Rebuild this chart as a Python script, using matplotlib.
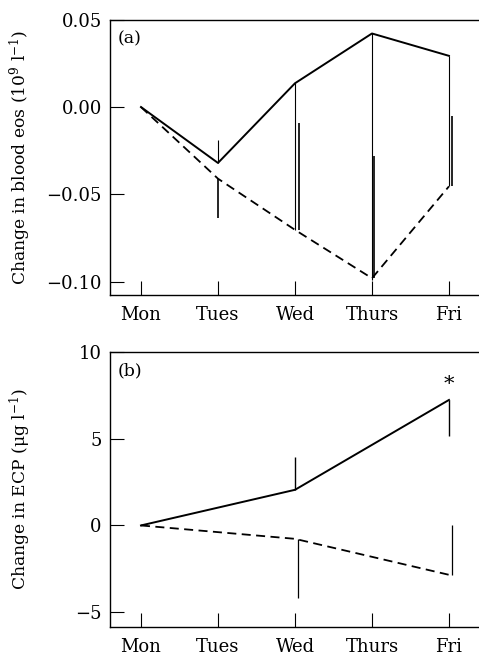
import matplotlib.pyplot as plt
import numpy as np

plt.rcParams['font.family'] = ['DejaVu Serif']
plt.rcParams['mathtext.fontset'] = 'dejavuserif'

days = ['Mon', 'Tues', 'Wed', 'Thurs', 'Fri']
x = np.arange(len(days))

# (a) blood eosinophils
eos_solid = [0.0, -0.032, 0.0136, 0.0421, 0.0293]
eos_dash = [0.0, -0.041, -0.0703, -0.098, -0.0454]
eos_solid_up = [0, 0.0134, 0, 0, 0]
eos_solid_lo = [0, 0, 0.0839, 0.141, 0.0747]
eos_dash_up = [0, 0, 0.061, 0.070, 0.040]
eos_dash_lo = [0, 0.0226, 0, 0, 0]

# (b) ECP, measured Mon/Wed/Fri
ecp_days = [0, 2, 4]
ecp_solid = [0.0, 2.05, 7.22]
ecp_dash = [0.0, -0.77, -2.84]
ecp_solid_up = [0, 1.88, 0]
ecp_solid_lo = [0, 0, 2.1]
ecp_dash_up = [0, 0, 2.84]
ecp_dash_lo = [0, 3.41, 0]

fig = plt.figure(figsize=(4.79, 6.56), dpi=100)
ax1 = fig.add_axes([0.23, 0.55, 0.77, 0.42])
ax2 = fig.add_axes([0.23, 0.044, 0.77, 0.42])

# panel a
off_a = np.array([0, 0, 0.05, 0.03, 0.04])
ax1.plot(x, eos_solid, color='black', lw=1.4)
ax1.plot(x, eos_dash, color='black', lw=1.3, ls=(0, (5, 3)))
ax1.errorbar(x, eos_solid, yerr=[eos_solid_lo, eos_solid_up], fmt='none',
             ecolor='black', elinewidth=0.8, capsize=0)
ax1.errorbar(x + off_a, eos_dash, yerr=[eos_dash_lo, eos_dash_up], fmt='none',
             ecolor='black', elinewidth=1.2, capsize=0)
ax1.set_xlim(-0.4, 4.39)
ax1.set_ylim(-0.1077, 0.05)
ax1.set_yticks([-0.10, -0.05, 0.0, 0.05])
ax1.set_yticklabels(['\u22120.10', '\u22120.05', '0.00', '0.05'])
ax1.set_ylabel('Change in blood eos (10$^9$ l$^{-1}$)', fontsize=12.3)
ax1.text(0.02, 0.96, '(a)', transform=ax1.transAxes, fontsize=12.5, va='top', ha='left')

# panel b
ax2.plot(ecp_days, ecp_solid, color='black', lw=1.4)
ax2.plot(ecp_days, ecp_dash, color='black', lw=1.3, ls=(0, (5, 3)))
ax2.errorbar(ecp_days, ecp_solid, yerr=[ecp_solid_lo, ecp_solid_up], fmt='none',
             ecolor='black', elinewidth=1.0, capsize=0)
ax2.errorbar(np.array(ecp_days) + 0.04, ecp_dash, yerr=[ecp_dash_lo, ecp_dash_up],
             fmt='none', ecolor='black', elinewidth=0.9, capsize=0)
ax2.text(4, 8.1, '*', ha='center', va='center', fontsize=15)
ax2.set_xlim(-0.4, 4.39)
ax2.set_ylim(-5.85, 10)
ax2.set_yticks([-5, 0, 5, 10])
ax2.set_yticklabels(['\u22125', '0', '5', '10'])
ax2.set_ylabel('Change in ECP (\u03bcg l$^{-1}$)', fontsize=12.3)
ax2.text(0.02, 0.96, '(b)', transform=ax2.transAxes, fontsize=12.5, va='top', ha='left')

for ax in (ax1, ax2):
    ax.set_xticks(x)
    ax.set_xticklabels(days)
    ax.spines['right'].set_visible(False)
    for s in ('left', 'bottom', 'top'):
        ax.spines[s].set_linewidth(1.0)
    ax.tick_params(direction='in', length=10, width=0.8, labelsize=13)
    ax.tick_params(axis='x', pad=8)
    ax.tick_params(axis='y', pad=6)
    ax.yaxis.set_label_coords(-0.21, 0.5)

fig.savefig('out.png', dpi=100)
